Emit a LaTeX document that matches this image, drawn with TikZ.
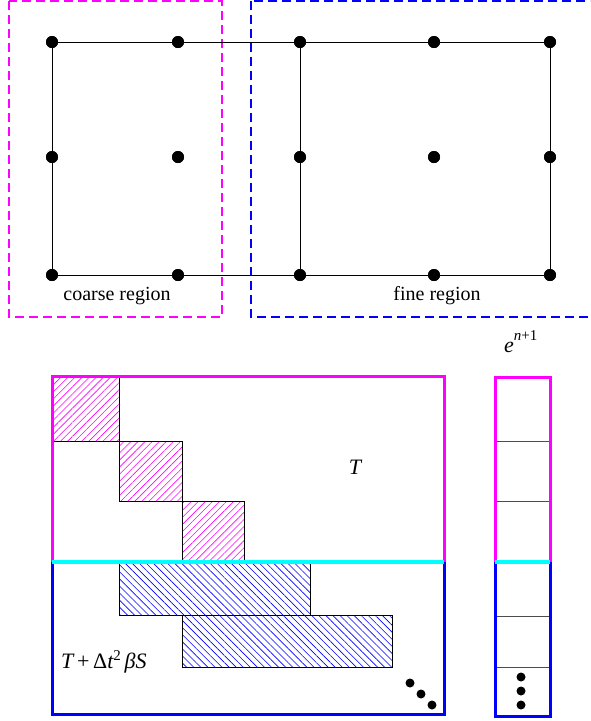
\documentclass[tikz,border=0pt]{standalone}
\usepackage{fontspec}
\setmainfont{Liberation Serif}
\usetikzlibrary{patterns.meta}
\definecolor{mag}{RGB}{255,0,255}
\definecolor{cyn}{RGB}{0,255,255}
\definecolor{blu}{RGB}{0,0,255}
\begin{document}
\begin{tikzpicture}[x=1pt,y=-1pt,
  gdot/.style={circle,fill=black,inner sep=0pt,minimum size=12pt},
  sdot/.style={circle,fill=black,inner sep=0pt,minimum size=9pt},
  grid/.style={draw=black,line width=1pt},
  region/.style={line width=2pt,dash pattern=on 9pt off 5pt},
  lbl/.style={font=\fontsize{20}{22}\selectfont,inner sep=0pt},
  mlbl/.style={font=\fontsize{22}{24}\selectfont\itshape,inner sep=0pt},
  magblock/.style={draw=black,line width=0.7pt,pattern={Lines[angle=45,distance=5pt,line width=0.6pt]},pattern color=mag},
  blueblock/.style={draw=black,line width=0.7pt,pattern={Lines[angle=-45,distance=5pt,line width=0.6pt]},pattern color=blu},
  thin/.style={draw=black!70,line width=0.8pt}]
\useasboundingbox (0,0) rectangle (590,721);
\begin{scope}
\clip (0,0) rectangle (590,721);
% region boxes
\draw[region,mag] (9,1) rectangle (222,317);
\draw[region,blu] (251,1) rectangle (620,317);
% grid nodes
\node[gdot] (a1) at (52,42) {};
\node[gdot] (a2) at (178,42) {};
\node[gdot] (a3) at (300,42) {};
\node[gdot] (a4) at (434,42) {};
\node[gdot] (a5) at (550,42) {};
\node[gdot] (b1) at (52,157) {};
\node[gdot] (b2) at (178,157) {};
\node[gdot] (b3) at (300,157) {};
\node[gdot] (b4) at (434,157) {};
\node[gdot] (b5) at (550,157) {};
\node[gdot] (c1) at (52,275) {};
\node[gdot] (c2) at (178,275) {};
\node[gdot] (c3) at (300,275) {};
\node[gdot] (c4) at (434,275) {};
\node[gdot] (c5) at (550,275) {};
\draw[grid] (a1.center) -- (a5.center);
\draw[grid] (c1.center) -- (c5.center);
\draw[grid] (a1.center) -- (c1.center);
\draw[grid] (a3.center) -- (c3.center);
\draw[grid] (a5.center) -- (c5.center);
\foreach \n in {a1,a2,a3,a4,a5,b1,b2,b3,b4,b5,c1,c2,c3,c4,c5} \fill (\n) circle (6pt);
\node[lbl] (coarse) at (117,296) {coarse region};
\node[lbl] (fine) at (437,296) {fine region};
% matrix
\draw[magblock] (52,376) rectangle (119,441);
\draw[magblock] (119,441) rectangle (182,501);
\draw[magblock] (182,501) rectangle (244,562);
\draw[blueblock] (119,562) rectangle (310,615);
\draw[blueblock] (182,615) rectangle (392,667);
\draw[mag,line width=3pt] (52,562) -- (52,376) -- (444,376) -- (444,562);
\draw[blu,line width=3pt] (52,562) -- (52,714) -- (444,714) -- (444,562);
\draw[cyn,line width=3.5pt] (52,562) -- (444,562);
\node[mlbl] (T) at (355,467) {T};
\node[mlbl,anchor=west] (TS) at (61,662) {T\,{\upshape +}\,{\upshape Δ}t\raisebox{0.75ex}{\fontsize{15}{16}\selectfont\upshape 2}\,βS};
\node[sdot] (d1) at (410,683) {};
\node[sdot] (d2) at (421,694) {};
\node[sdot] (d3) at (432,705) {};
% vector
\node[mlbl,anchor=base west] (e) at (504,352) {e\raisebox{1.1ex}{\fontsize{15}{16}\selectfont n{\upshape +1}}};
\coordinate (v0l) at (495,377); \coordinate (v0r) at (550,377);
\coordinate (v1l) at (495,441); \coordinate (v1r) at (550,441);
\coordinate (v2l) at (495,501); \coordinate (v2r) at (550,501);
\coordinate (v3l) at (495,562); \coordinate (v3r) at (550,562);
\coordinate (v4l) at (495,616); \coordinate (v4r) at (550,616);
\coordinate (v5l) at (495,667); \coordinate (v5r) at (550,667);
\coordinate (v6l) at (495,716); \coordinate (v6r) at (550,716);
\draw[thin] (v1l) -- (v1r);
\draw[thin] (v2l) -- (v2r);
\draw[thin] (v4l) -- (v4r);
\draw[thin] (v5l) -- (v5r);
\draw[mag,line width=3pt] (v3l) -- (v0l) -- (v0r) -- (v3r);
\draw[blu,line width=3pt] (v3l) -- (v6l) -- (v6r) -- (v3r);
\draw[cyn,line width=3.5pt] (v3l) -- (v3r);
\node[sdot] (e1) at (521,677) {};
\node[sdot] (e2) at (521,691) {};
\node[sdot] (e3) at (521,705) {};
\end{scope}
\end{tikzpicture}
\end{document}
